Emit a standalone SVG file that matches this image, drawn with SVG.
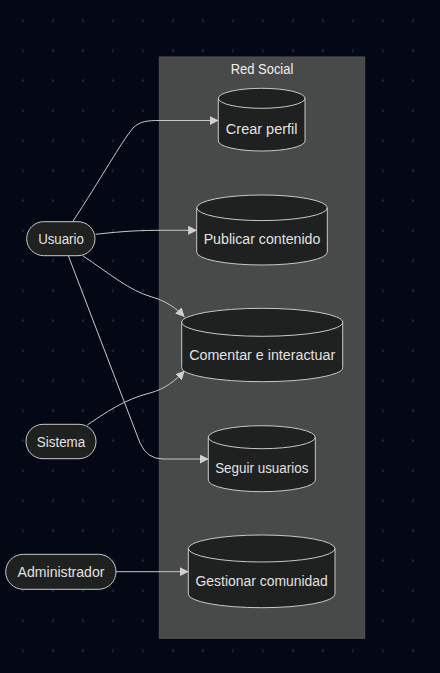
<svg xmlns="http://www.w3.org/2000/svg" width="440" height="673" viewBox="0 0 440 673">
<defs>
<pattern id="dots" x="8" y="5.7" width="30" height="30" patternUnits="userSpaceOnUse">
<circle cx="15" cy="15" r="1.4" fill="#1a2236"/>
</pattern>
<marker id="arrow" viewBox="0 0 10 10" refX="9.5" refY="5" markerWidth="9" markerHeight="9" markerUnits="userSpaceOnUse" orient="auto">
<path d="M0,0 L10,5 L0,10 z" fill="#d0d0d0"/>
</marker>
<style>
.lbl{font-family:"Liberation Sans",Arial,sans-serif;font-size:14px;fill:#e2e2e2;text-anchor:middle;dominant-baseline:central}
.node{fill:#1f2020;stroke:#c8c8c8;stroke-width:1}
.edge{fill:none;stroke:#c8c8c8;stroke-width:1;marker-end:url(#arrow)}
</style>
</defs>
<rect width="440" height="673" fill="#030814"/>
<rect width="440" height="673" fill="url(#dots)"/>
<g id="cluster-red-social">
<rect x="159.3" y="57" width="205.4" height="581.3" fill="#484949" stroke="#545454" stroke-width="1"/>
<text class="lbl" x="262" y="69" textLength="62.7" lengthAdjust="spacingAndGlyphs" style="fill:#f0f0f0">Red Social</text>
</g>
<g id="edges">
<path class="edge" d="M72.7,221.7 C100,180 122,141 133,128 C140,121 148,120.5 160,120.5 L218.3,120.5"/>
<path class="edge" d="M95.7,234.3 C125,231 140,230.3 165,230.3 L196.7,230.3"/>
<path class="edge" d="M82.7,255.7 C110,274 130,291 152,297 C166,301 176,308 184.3,316.7"/>
<path class="edge" d="M68.3,255.7 L140,443 Q147,459 163,459 L208.3,459"/>
<path class="edge" d="M87.3,425 C105,413 125,399 150,393 C165,389 175,381 184.3,371"/>
<path class="edge" d="M116,571.7 L188.3,571.7"/>
</g>
<g id="usuario">
<rect class="node" x="26.7" y="221.7" width="68.3" height="34" rx="17"/>
<text class="lbl" x="61" y="238.7" textLength="45.7" lengthAdjust="spacingAndGlyphs">Usuario</text>
</g>
<g id="sistema">
<rect class="node" x="26" y="424.3" width="70" height="34.4" rx="17"/>
<text class="lbl" x="61" y="441.5" textLength="48.3" lengthAdjust="spacingAndGlyphs">Sistema</text>
</g>
<g id="administrador">
<rect class="node" x="5.7" y="554.3" width="110.3" height="35" rx="17.5"/>
<text class="lbl" x="61" y="571.8" textLength="87" lengthAdjust="spacingAndGlyphs">Administrador</text>
</g>
<g id="crear-perfil">
<path class="node" d="M218.3,98.3 a43.35,10 0 0 0 86.7,0 a43.35,10 0 0 0 -86.7,0 l0,42.7 a43.35,10 0 0 0 86.7,0 l0,-42.7"/>
<text class="lbl" x="261.7" y="129.3" textLength="71.7" lengthAdjust="spacingAndGlyphs">Crear perfil</text>
</g>
<g id="publicar-contenido">
<path class="node" d="M196.7,207.8 a65.3,12.8 0 0 0 130.6,0 a65.3,12.8 0 0 0 -130.6,0 l0,44.4 a65.3,12.8 0 0 0 130.6,0 l0,-44.4"/>
<text class="lbl" x="262" y="239.3" textLength="116.7" lengthAdjust="spacingAndGlyphs">Publicar contenido</text>
</g>
<g id="comentar-e-interactuar">
<path class="node" d="M181.7,322.3 a80.5,14 0 0 0 161,0 a80.5,14 0 0 0 -161,0 l0,45.4 a80.5,14 0 0 0 161,0 l0,-45.4"/>
<text class="lbl" x="262.2" y="355.3" textLength="146" lengthAdjust="spacingAndGlyphs">Comentar e interactuar</text>
</g>
<g id="seguir-usuarios">
<path class="node" d="M208.3,437.2 a53.5,11.5 0 0 0 107,0 a53.5,11.5 0 0 0 -107,0 l0,43 a53.5,11.5 0 0 0 107,0 l0,-43"/>
<text class="lbl" x="261.8" y="468.3" textLength="93.3" lengthAdjust="spacingAndGlyphs">Seguir usuarios</text>
</g>
<g id="gestionar-comunidad">
<path class="node" d="M188.3,548.5 a73.35,13.5 0 0 0 146.7,0 a73.35,13.5 0 0 0 -146.7,0 l0,45.7 a73.35,13.5 0 0 0 146.7,0 l0,-45.7"/>
<text class="lbl" x="261.7" y="581" textLength="132.3" lengthAdjust="spacingAndGlyphs">Gestionar comunidad</text>
</g>
</svg>
